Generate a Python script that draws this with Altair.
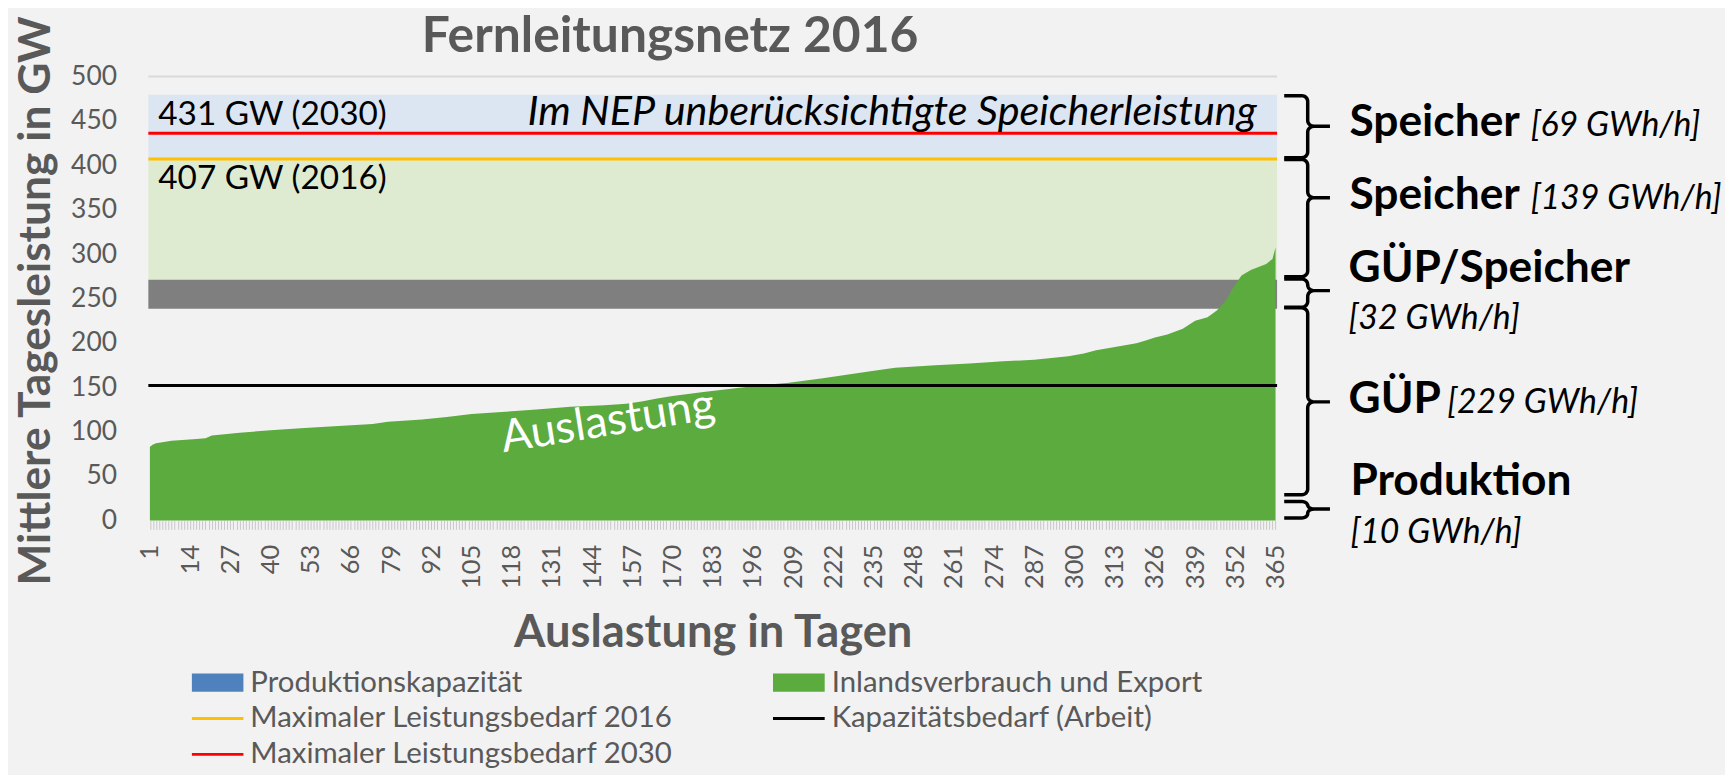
import altair as alt
import pandas as pd
import math

# ---------------- data ----------------
days = [1, 2, 3, 8, 15, 19, 21, 30, 40, 51, 62, 73, 78, 89, 97, 105, 116, 126, 137, 148,
        155, 160, 165, 170, 180, 191, 201, 207, 218, 223, 234, 242, 255, 266, 277, 287, 298, 303, 307, 314,
        320, 323, 326, 330, 335, 339, 343, 346, 349, 351, 354, 357, 362, 364, 365]
load = [83.0, 85.5, 86.8, 89.8, 91.5, 92.4, 95.5, 98.7, 101.6, 104.0, 106.3, 108.5, 111.0, 113.7, 116.5, 119.7, 122.3, 125.0, 127.9, 129.8,
        131.5, 134.0, 137.3, 140.0, 144.7, 149.2, 153.0, 154.8, 159.7, 162.4, 168.0, 172.0, 174.7, 176.6, 179.2, 181.0, 184.8, 188.0, 191.5, 196.0,
        199.5, 202.7, 206.0, 209.5, 215.8, 225.0, 228.9, 236.4, 247.6, 260.7, 275.7, 282.0, 288.8, 294.4, 307.4]

day_first, day_last = 1, 365
x_tick_step = 13
y_ticks = [0, 50, 100, 150, 200, 250, 300, 350, 400, 450, 500]

band_names = ["Im NEP unberücksichtigte Speicherleistung", "Speicher", "GÜP/Speicher"]
band_low = [407.0, 271.0, 238.5]
band_high = [479.5, 407.0, 271.0]
band_colors = ["#DCE5F2", "#DEEBD1", "#7F7F7F"]

line_names = ["Kapazitätsbedarf (Arbeit)", "Maximaler Leistungsbedarf 2016", "Maximaler Leistungsbedarf 2030"]
line_values = [152.0, 407.0, 436.0]
line_colors = ["#000000", "#FFC000", "#FF0000"]

legend_labels = ["Produktionskapazität", "Inlandsverbrauch und Export",
                 "Maximaler Leistungsbedarf 2016", "Kapazitätsbedarf (Arbeit)",
                 "Maximaler Leistungsbedarf 2030"]
legend_colors = ["#4F81BD", "#5BAB3F", "#FFC000", "#000000", "#FF0000"]
BOX = "M-1,-0.35H1V0.35H-1Z"
LINE = "M-1,-0.055H1V0.055H-1Z"
legend_shapes = [BOX, BOX, LINE, LINE, LINE]

title_text = ["Fernleitungsnetz 2016"]
title_x = [169.2]
title_y = [528.1]

inner_text = ["431 GW (2030)", "407 GW (2016)"]
inner_x = [3.7, 3.7]
inner_y = [445.0, 373.0]
nep_text = ["Im NEP unberücksichtigte Speicherleistung"]
nep_x = [241.0]
nep_y = [445.0]
aus_text = ["Auslastung"]
aus_x = [149.8]
aus_y = [95.7]

# right-hand braces (GW) and their labels
brace_top = [478.4, 406.6, 272.0, 239.4, 21.3]
brace_bottom = [408.4, 274.5, 240.0, 28.8, 2.7]
brace_mid = [443.9, 363.5, 258.8, 133.5, 12.8]
brace_x = [367.8, 375.4, 382.6]  # outer end, spine, tip (in day units)

bold_text = ["Speicher", "Speicher", "GÜP/Speicher", "GÜP", "Produktion"]
bold_x = [388.9, 388.9, 388.6, 388.6, 389.2]
bold_y = [432.7, 350.5, 268.2, 120.5, 28.8]
ital_text = ["[69 GWh/h]", "[139 GWh/h]", "[32 GWh/h]", "[229 GWh/h]", "[10 GWh/h]"]
ital_x = [447.5, 447.5, 388.6, 420.5, 389.2]
ital_y = [432.7, 350.5, 215.9, 120.5, -25.4]

# ---------------- tables ----------------
W, H = 1134, 446
x0, x1 = day_first - 0.5, day_last + 0.5
XS = alt.Scale(domain=[x0, x1], nice=False, zero=False)
YS = alt.Scale(domain=[y_ticks[0], y_ticks[-1]], nice=False)
FONT = "Lato"
GREY = "#595959"

area_df = pd.DataFrame({"day": days, "gw": load})
band_df = pd.DataFrame({"name": band_names, "lo": band_low, "hi": band_high,
                        "c": band_colors, "xa": x0, "xb": x1})
line_df = pd.DataFrame({"name": line_names, "v": line_values, "c": line_colors, "xa": x0, "xb": x1})
grid_df = pd.DataFrame({"v": [y_ticks[-1]], "xa": x0, "xb": x1})
leg_df = pd.DataFrame({"serie": legend_labels, "x": [100.0] * 5, "y": [50.0] * 5})

rows = []
rx = 2.0
for b in range(len(brace_top)):
    top, bot, mid = brace_top[b], brace_bottom[b], brace_mid[b]
    ry = min(6.5, (top - bot) / 4.0)
    xa, xs, xt = brace_x
    pts = [(xa, top)]
    for k in range(7):
        th = math.pi / 2 - k * (math.pi / 2) / 6
        pts.append((xs - rx + rx * math.cos(th), top - ry + ry * math.sin(th)))
    for k in range(7):
        th = math.pi + k * (math.pi / 2) / 6
        pts.append((xs + rx + rx * math.cos(th), mid + ry + ry * math.sin(th)))
    pts.append((xt, mid))
    pts.append((xs + rx, mid))
    for k in range(7):
        th = math.pi / 2 + k * (math.pi / 2) / 6
        pts.append((xs + rx + rx * math.cos(th), mid - ry + ry * math.sin(th)))
    for k in range(7):
        th = 0 - k * (math.pi / 2) / 6
        pts.append((xs - rx + rx * math.cos(th), bot + ry + ry * math.sin(th)))
    pts.append((xa, bot))
    for i, (px, py) in enumerate(pts):
        rows.append({"brace": b, "i": i, "x": px, "y": py})
brace_df = pd.DataFrame(rows)

# ---------------- axes (shared by every layer) ----------------
x_axis = alt.Axis(values=list(range(day_first, day_last + 1)),
                  labelExpr=f"(datum.value - {day_first}) % {x_tick_step} == 0 ? datum.label : ''",
                  labelAngle=270, labelAlign="right", labelBaseline="middle",
                  labelOverlap=False, labelFlush=False, labelBound=False,
                  labelFont=FONT, labelFontSize=25.5, labelColor=GREY, labelPadding=15,
                  tickSize=9, tickColor="#C8C8C8", tickWidth=1, domain=False, grid=False,
                  title="Auslastung in Tagen", titleFont=FONT, titleFontSize=45.5,
                  titleFontWeight="bold", titleColor=GREY, titleX=W / 2, titleY=127,
                  titleBaseline="alphabetic", titleAlign="center")
y_axis = alt.Axis(values=y_ticks, labelFont=FONT, labelFontSize=26.5, labelColor=GREY,
                  labelPadding=32, ticks=False, domain=False, grid=False,
                  title="Mittlere Tagesleistung in GW", titleFont=FONT, titleFontSize=44.5,
                  titleFontWeight="bold", titleColor=GREY, titleAngle=270,
                  titleX=-99, titleY=H / 2 + 2, titleBaseline="alphabetic", titleAlign="center")


def X(f):
    return alt.X(f, scale=XS, axis=x_axis)


def Y(f):
    return alt.Y(f, scale=YS, axis=y_axis)


legend = alt.Legend(title=None, orient="none", legendX=43.5, legendY=594, columns=2,
                    direction="horizontal", padding=0, labelFont=FONT, labelFontSize=29.5,
                    labelColor=GREY, labelLimit=900, labelOffset=7, symbolSize=2704,
                    symbolStrokeWidth=0, symbolOpacity=1, clipHeight=30, rowPadding=6,
                    columnPadding=100)

leg_layer = alt.Chart(leg_df).mark_point(filled=True, opacity=1).encode(
    x=X("x:Q"), y=Y("y:Q"),
    color=alt.Color("serie:N", scale=alt.Scale(domain=legend_labels, range=legend_colors), legend=legend),
    shape=alt.Shape("serie:N", scale=alt.Scale(domain=legend_labels, range=legend_shapes), legend=legend),
)

band_layer = alt.Chart(band_df).mark_rect().encode(
    x=X("xa:Q"), x2="xb:Q", y=Y("lo:Q"), y2="hi:Q",
    color=alt.Color("c:N", scale=None, legend=None),
)

grid_layer = alt.Chart(grid_df).mark_rule(color="#D9D9D9", strokeWidth=2).encode(
    x=X("xa:Q"), x2="xb:Q", y=Y("v:Q"))

area_layer = alt.Chart(area_df).mark_area(color="#5BAB3F", interpolate="linear").encode(
    x=X("day:Q"), y=Y("gw:Q"))

line_layer = alt.Chart(line_df).mark_rule(strokeWidth=3).encode(
    x=X("xa:Q"), x2="xb:Q", y=Y("v:Q"),
    color=alt.Color("c:N", scale=None, legend=None),
)


def text_layer(texts, xs, ys, **kw):
    return alt.Chart(pd.DataFrame({"t": texts, "x": xs, "y": ys})).mark_text(
        baseline="alphabetic", font=FONT, **kw).encode(x=X("x:Q"), y=Y("y:Q"), text="t:N")


title_layer = text_layer(title_text, title_x, title_y, align="center", fontSize=50,
                         fontWeight="bold", color=GREY)
inner_layer = text_layer(inner_text, inner_x, inner_y, align="left", fontSize=33.5, color="black")
nep_layer = text_layer(nep_text, nep_x, nep_y, align="center", fontSize=41.5,
                       fontStyle="italic", color="black")
aus_layer = text_layer(aus_text, aus_x, aus_y, align="center", fontSize=45, angle=351,
                       color="white")
bold_layer = text_layer(bold_text, bold_x, bold_y, align="left", fontSize=44.5,
                        fontWeight="bold", color="black")
ital_layer = text_layer(ital_text, ital_x, ital_y, align="left", fontSize=34,
                        fontStyle="italic", color="black")

brace_layer = alt.Chart(brace_df).mark_line(color="black", strokeWidth=3.5, interpolate="linear").encode(
    x=X("x:Q"), y=Y("y:Q"), detail="brace:N", order="i:Q")

chart = alt.layer(
    leg_layer, band_layer, grid_layer, area_layer, line_layer, inner_layer, nep_layer,
    aus_layer, brace_layer, bold_layer, ital_layer, title_layer,
).properties(
    width=W, height=H,
    autosize=alt.AutoSizeParams(type="none"),
    padding={"left": 141, "top": 67, "right": 450, "bottom": 254},
).configure(background="#F2F2F2").configure_view(stroke=None)

chart.save("out.html", embed_options={"renderer": "svg", "actions": False})
